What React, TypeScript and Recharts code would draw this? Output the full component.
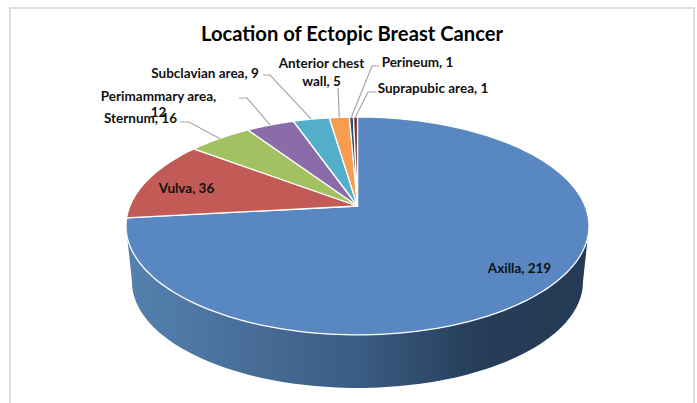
import React from 'react';
import { PieChart, Pie, Cell } from 'recharts';

const categories = ['Axilla', 'Vulva', 'Sternum', 'Perimammary area', 'Subclavian area', 'Anterior chest wall', 'Perineum', 'Suprapubic area'];
const values = [219, 36, 16, 12, 9, 5, 1, 1];
const colors = ['#5887c1', '#c25a56', '#a3c063', '#8a6ca9', '#53afc9', '#f89c50', '#2c4d75', '#772c2a'];

const tableData = categories.map((name, i) => ({ name, value: values[i] }));

// perspective of the tilted disc, fitted by eye against the reference
const PERSP = 0.183;
const RADIUS_X = 227.6;
const RADIUS_Y = 105.3;
const DEPTH = 56.4;
const BOTTOM_SCALE = 0.974;
const FRONT_FROM = 100.5;
const FRONT_TO = 259.5;

const CX = 357.5;
const CY = 206;

// label placement: text anchor point, line break, elbow of the leader line
const labelLayout = [
  { x: 519.5, y: 268, breakAfter: 0 },
  { x: 186.5, y: 188, breakAfter: 0 },
  { x: 140.5, y: 118, breakAfter: 0, leader: [[189, 122], [180, 122]] },
  { x: 158.5, y: 96, breakAfter: 2, leader: [[247, 98], [239, 98]] },
  { x: 205, y: 73, breakAfter: 0, leader: [[270, 75], [263, 75]] },
  { x: 321.5, y: 63, breakAfter: 2, leader: [[338, 88]] },
  { x: 417.5, y: 62, breakAfter: 0, leader: [[372, 66], [379, 66]] },
  { x: 433, y: 88, breakAfter: 0, leader: [[368, 92], [376, 92]] },
];

function project(theta: number, cx: number, cy: number, scale = 1, drop = 0) {
  const rad = (theta * Math.PI) / 180;
  const w = 1 + PERSP * Math.cos(rad);
  return [cx + (scale * RADIUS_X * Math.sin(rad)) / w, cy + drop - (scale * RADIUS_Y * Math.cos(rad)) / w];
}

function rim(from: number, to: number, cx: number, cy: number, scale = 1, drop = 0) {
  const steps = Math.max(2, Math.ceil(Math.abs(to - from) / 1.5));
  const pts = [];
  for (let i = 0; i <= steps; i++) {
    pts.push(project(from + ((to - from) * i) / steps, cx, cy, scale, drop));
  }
  return pts;
}

const toPath = (pts: number[][]) => 'M' + pts.map((p) => p[0].toFixed(2) + ',' + p[1].toFixed(2)).join('L') + 'Z';

function DiscSector(props: any) {
  const { cx, cy, startAngle, endAngle, fill } = props;
  // recharts angles run counter-clockwise from 3 o'clock
  const from = 90 - startAngle;
  const to = 90 - endAngle;
  const wallFrom = Math.max(from, FRONT_FROM);
  const wallTo = Math.min(to, FRONT_TO);
  return (
    <g>
      {wallTo > wallFrom && (
        <path
          d={toPath([...rim(wallFrom, wallTo, cx, cy), ...rim(wallTo, wallFrom, cx, cy, BOTTOM_SCALE, DEPTH)])}
          fill="url(#wallShade)"
        />
      )}
      <path d={toPath([[cx, cy], ...rim(from, to, cx, cy)])} fill={fill} stroke="#ffffff" strokeWidth={1.3} strokeLinejoin="round" />
    </g>
  );
}

function SliceLabel(props: any) {
  const { cx, cy, midAngle, index, name, value } = props;
  const layout = labelLayout[index];
  const words = `${name}, ${value}`.split(' ');
  const lines = layout.breakAfter
    ? [words.slice(0, layout.breakAfter).join(' '), words.slice(layout.breakAfter).join(' ')]
    : [words.join(' ')];
  const lineGap = index === 3 ? 16 : 18;
  return (
    <g>
      {layout.leader && (
        <polyline
          points={[project(90 - midAngle, cx, cy), ...layout.leader].map((p) => p.join(',')).join(' ')}
          fill="none"
          stroke="#a6a6a6"
          strokeWidth={1.2}
        />
      )}
      <text textAnchor="middle" fontFamily="Lato" fontWeight={700} fontSize={13.5} fill="#111111">
        {lines.map((line, i) => (
          <tspan key={line} x={layout.x} y={layout.y + 4.5 + i * lineGap}>
            {line}
          </tspan>
        ))}
      </text>
    </g>
  );
}

export default function App() {
  return (
    <div style={{ position: 'fixed', left: 0, top: 0, width: 697, height: 403, overflow: 'hidden', background: '#fff' }}>
      <div style={{ position: 'absolute', left: 9, top: 7, width: 686, height: 450, border: '2px solid #dedede', boxSizing: 'border-box' }} />
      <div style={{ position: 'absolute', left: 0, top: 0 }}>
        <PieChart width={697} height={403} margin={{ top: 0, right: 0, bottom: 0, left: 0 }}>
          <defs>
            <linearGradient id="wallShade" gradientUnits="userSpaceOnUse" x1="127" y1="0" x2="589" y2="0">
              <stop offset="0" stopColor="#5581af" />
              <stop offset="0.5" stopColor="#3b5c83" />
              <stop offset="0.76" stopColor="#263d59" />
              <stop offset="1" stopColor="#243a54" />
            </linearGradient>
          </defs>
          <text x={352} y={41} textAnchor="middle" fontFamily="Lato" fontWeight={700} fontSize={20.2} fill="#000000">
            Location of Ectopic Breast Cancer
          </text>
          <Pie
            data={tableData}
            dataKey="value"
            nameKey="name"
            cx={CX}
            cy={CY}
            outerRadius={100}
            startAngle={90}
            endAngle={-270}
            stroke="none"
            shape={DiscSector}
            label={SliceLabel}
            labelLine={false}
            isAnimationActive={false}
          >
            {tableData.map((d, i) => (
              <Cell key={d.name} fill={colors[i]} />
            ))}
          </Pie>
        </PieChart>
      </div>
    </div>
  );
}
